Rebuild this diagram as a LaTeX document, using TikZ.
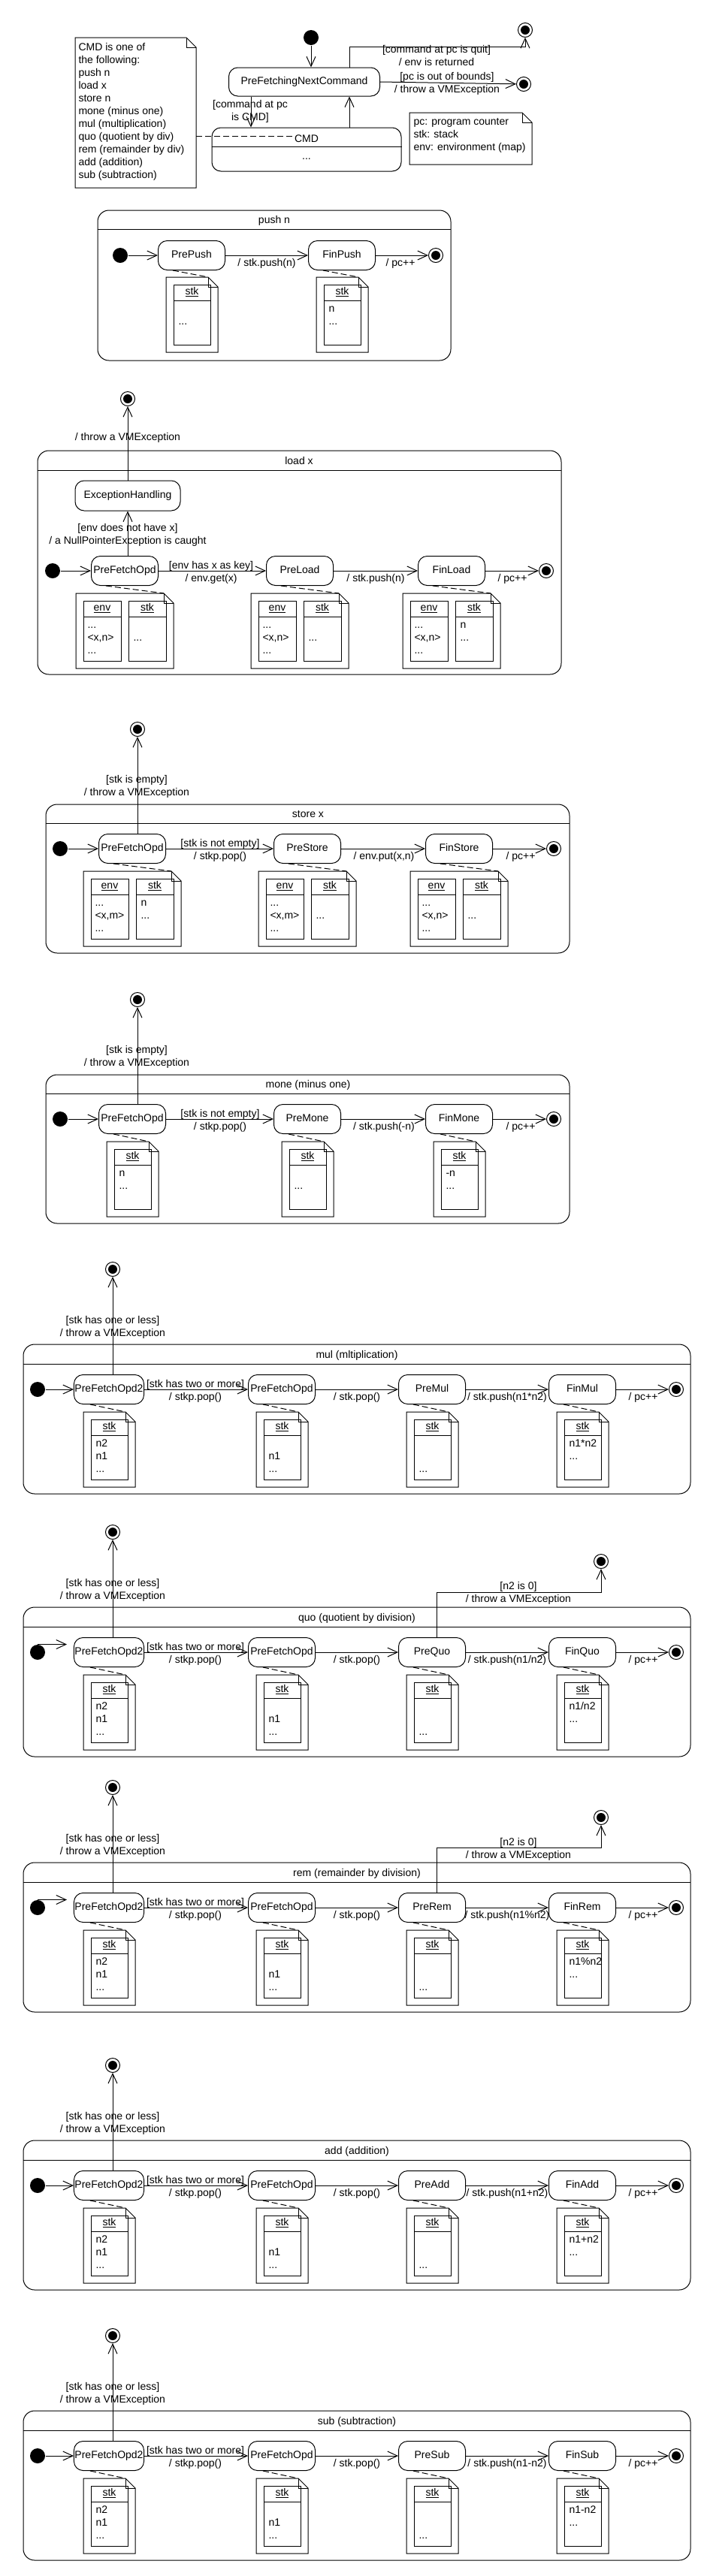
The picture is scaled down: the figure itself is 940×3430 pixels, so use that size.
\documentclass[tikz,border=0pt]{standalone}
\usepackage{fontspec}
\setmainfont{Liberation Sans}
\usepackage{tikz}
\usetikzlibrary{arrows.meta}

% note with one stack compartment: name, left, top, three lines
\newcommand{\stknote}[6]{%
  \draw (#2,#3) -- (#2+56,#3) -- (#2+69,#3+13) -- (#2+69,#3+100) -- (#2,#3+100) -- cycle;
  \draw (#2+56,#3) -- (#2+56,#3+13) -- (#2+69,#3+13);
  \coordinate (#1) at (#2+56,#3);
  \draw (#2+10,#3+10) rectangle (#2+59,#3+90);
  \draw (#2+10,#3+31) -- (#2+59,#3+31);
  \node[txt] (#1h) at (#2+34.5,#3+20) {\underline{stk}};
  \node[txt, anchor=west] (#1a) at (#2+16,#3+43) {#4};
  \node[txt, anchor=west] (#1b) at (#2+16,#3+60) {#5};
  \node[txt, anchor=west] (#1c) at (#2+16,#3+77) {#6};
}

% note with env and stack compartments: name, left, top, env lines, stk lines
\newcommand{\envnote}[8]{%
  \draw (#2,#3) -- (#2+117,#3) -- (#2+130,#3+13) -- (#2+130,#3+100) -- (#2,#3+100) -- cycle;
  \draw (#2+117,#3) -- (#2+117,#3+13) -- (#2+130,#3+13);
  \coordinate (#1) at (#2+117,#3);
  \draw (#2+10,#3+10) rectangle (#2+60,#3+90);
  \draw (#2+70,#3+10) rectangle (#2+120,#3+90);
  \draw (#2+10,#3+31) -- (#2+60,#3+31);
  \draw (#2+70,#3+31) -- (#2+120,#3+31);
  \node[txt] (#1e) at (#2+35,#3+20) {\underline{env}};
  \node[txt] (#1s) at (#2+95,#3+20) {\underline{stk}};
  \node[txt, anchor=west] (#1a) at (#2+15,#3+43) {#4};
  \node[txt, anchor=west] (#1b) at (#2+15,#3+60) {#5};
  \node[txt, anchor=west] (#1c) at (#2+15,#3+77) {#6};
  \node[txt, anchor=west] (#1d) at (#2+76,#3+43) {#7};
  \node[txt, anchor=west] (#1f) at (#2+76,#3+60) {#8};
}

% binary operation: top, prefix, state name, title, result
\newcommand{\opsection}[5]{%
  \draw[compbox] (31,#1) rectangle (919,#1+199);
  \draw (31,#1+26) -- (919,#1+26);
  \node[txt] (#2Title) at (475,#1+15) {#4};
  \node[enddot] (#2Exc) at (150,#1-100) {};
  \node[lbl] (#2ExcLbl) at (150,#1-23) {[stk has one or less]\\/ throw a VMException};
  \node[startdot] (#2Init) at (50,#1+60) {};
  \node[stnode] (#2OpdTwo) at (145,#1+60) {PreFetchOpd2};
  \node[stnode] (#2Opd) at (375,#1+60) {PreFetchOpd};
  \node[stnode] (pre#3) at (575,#1+60) {Pre#3};
  \node[stnode] (fin#3) at (775,#1+60) {Fin#3};
  \node[enddot] (#2End) at (900,#1+60) {};
  \draw[transarrow] (#2OpdTwo.north -| #2Exc) -- (#2Exc);
  \draw[transarrow] (#2OpdTwo) -- (#2Opd);
  \draw[transarrow] (#2Opd) -- (pre#3);
  \draw[transarrow] (pre#3) -- (fin#3);
  \draw[transarrow] (fin#3) -- (#2End);
  \node[lbl] (#2Guard) at (260,#1+62) {[stk has two or more]\\/ stkp.pop()};
  \node[txt] (#2Pop) at (475,#1+71) {/ stk.pop()};
  \node[txt] (#2Push) at (675,#1+71) {/ stk.push(#5)};
  \node[txt] (#2Inc) at (856,#1+71) {/ pc++};
  \stknote{#2OpdTwoN}{111}{#1+90}{n2}{n1}{...}
  \stknote{#2OpdN}{341}{#1+90}{}{n1}{...}
  \stknote{pre#3N}{541}{#1+90}{}{}{...}
  \stknote{fin#3N}{741}{#1+90}{#5}{...}{}
  \draw[anchorline] ([xshift=-25pt]#2OpdTwo.south) -- (#2OpdTwoN);
  \draw[anchorline] ([xshift=-25pt]#2Opd.south) -- (#2OpdN);
  \draw[anchorline] ([xshift=-25pt]pre#3.south) -- (pre#3N);
  \draw[anchorline] ([xshift=-25pt]fin#3.south) -- (fin#3N);
}

\begin{document}
\begin{tikzpicture}[x=1pt,y=-1pt,line width=1pt,
  every node/.style={font=\fontsize{14}{17}\selectfont},
  txt/.style={inner sep=0pt, text height=10pt, text depth=3pt},
  lbl/.style={inner sep=0pt, align=center},
  stnode/.style={draw, rounded corners=12pt, minimum width=89pt, minimum height=39pt, inner sep=1pt, text height=10pt, text depth=3pt},
  startdot/.style={circle, fill, inner sep=0pt, minimum size=20pt},
  enddot/.style={circle, draw, inner sep=0pt, minimum size=19pt, path picture={\fill (path picture bounding box.center) circle (6pt);}},
  transarrow/.style={-{Straight Barb[length=13pt,width=12pt]}},
  anchorline/.style={dash pattern=on 8pt off 4pt},
  compbox/.style={rounded corners=15pt}]

\fill[white] (0,0) rectangle (940,3430);
\useasboundingbox (0,0) rectangle (940,3430);

% top level
\draw (100,50) -- (248,50) -- (261,63) -- (261,250) -- (100,250) -- cycle;
\draw (248,50) -- (248,63) -- (261,63);
\node[align=left, anchor=north west, inner sep=0pt] (cmdList) at (104,57) {CMD is one of\\the following:\\push n\\load x\\store n\\mone (minus one)\\mul (multiplication)\\quo (quotient by div)\\rem (remainder by div)\\add (addition)\\sub (subtraction)};
\draw (545,150) -- (695,150) -- (708,163) -- (708,219) -- (545,219) -- cycle;
\draw (695,150) -- (695,163) -- (708,163);
\node[align=left, anchor=north west, inner sep=0pt] (pcList) at (550,157) {pc: program counter\\stk: stack\\env: environment (map)};

\node[startdot] (topInit) at (414,50) {};
\node[stnode, minimum width=201pt, minimum height=38pt] (fetchCmd) at (405,109) {PreFetchingNextCommand};
\node[enddot] (quitEnd) at (699,40) {};
\node[enddot] (oobEnd) at (697,112) {};
\node[draw, rounded corners=12pt, minimum width=252pt, minimum height=58pt] (cmdState) at (408,199) {};
\draw ([yshift=4pt]cmdState.west) -- ([yshift=4pt]cmdState.east);
\node[txt] (cmdName) at (408,186) {CMD};
\node[txt] (cmdDots) at (408,209) {...};
\coordinate (cmdNoteEdge) at (261,181);
\coordinate (cmdLink) at (390,181);

\draw[transarrow] (topInit) -- (topInit |- fetchCmd.north);
\draw[transarrow] ([xshift=60pt]fetchCmd.north) |- ([yshift=-12pt]quitEnd.south) -- (quitEnd.south);
\node[lbl] (quitLbl) at (581,74) {[command at pc is quit]\\/ env is returned};
\draw[transarrow] (fetchCmd.east) -- (oobEnd);
\node[lbl] (oobLbl) at (595,111) {[pc is out of bounds]\\/ throw a VMException};
\draw[transarrow] ([xshift=-71pt]fetchCmd.south) -- ([xshift=-74pt]cmdState.north);
\node[lbl] (cmdGuard) at (333,148) {[command at pc\\is CMD]};
\draw[transarrow] ([xshift=57pt]cmdState.north) -- ([xshift=60pt]fetchCmd.south);
\draw[anchorline] (cmdNoteEdge) -- (cmdLink);

% push n
\draw[compbox] (130,280) rectangle (600,480);
\draw (130,305) -- (600,305);
\node[txt] (pushTitle) at (365,294) {push n};
\node[startdot] (pushInit) at (160,340) {};
\node[stnode] (prePush) at (255,340) {PrePush};
\node[stnode] (finPush) at (455,340) {FinPush};
\node[enddot] (pushEnd) at (580,340) {};
\draw[transarrow] (pushInit) -- (prePush);
\draw[transarrow] (prePush) -- (finPush);
\draw[transarrow] (finPush) -- (pushEnd);
\node[txt] (pushAct) at (355,351) {/ stk.push(n)};
\node[txt] (pushInc) at (533,351) {/ pc++};
\stknote{prePushN}{221}{369}{}{...}{}
\stknote{finPushN}{421}{369}{n}{...}{}
\draw[anchorline] ([xshift=-25pt]prePush.south) -- (prePushN);
\draw[anchorline] ([xshift=-25pt]finPush.south) -- (finPushN);

% load x
\draw[compbox] (50,600) rectangle (747,898);
\draw (50,626) -- (747,626);
\node[txt] (loadTitle) at (398,615) {load x};
\node[enddot] (loadExc) at (170,531) {};
\node[stnode, minimum width=140pt, minimum height=40pt] (loadHandle) at (170,660) {ExceptionHandling};
\node[txt] (loadThrow) at (170,583) {/ throw a VMException};
\node[startdot] (loadInit) at (70,760) {};
\node[stnode] (loadOpd) at (166,760) {PreFetchOpd};
\node[stnode] (preLoad) at (399,760) {PreLoad};
\node[stnode] (finLoad) at (601,760) {FinLoad};
\node[enddot] (loadEnd) at (727,760) {};
\draw[transarrow] (loadHandle) -- (loadExc);
\draw[transarrow] (loadOpd.north -| loadHandle) -- (loadHandle);
\node[lbl] (loadCatch) at (170,712) {[env does not have x]\\/ a NullPointerException is caught};
\draw[transarrow] (loadInit) -- (loadOpd);
\draw[transarrow] (loadOpd) -- (preLoad);
\draw[transarrow] (preLoad) -- (finLoad);
\draw[transarrow] (finLoad) -- (loadEnd);
\node[lbl] (loadGuard) at (281,762) {[env has x as key]\\/ env.get(x)};
\node[txt] (loadPush) at (500,771) {/ stk.push(n)};
\node[txt] (loadInc) at (682,771) {/ pc++};
\envnote{loadOpdN}{101}{790}{...}{<x,n>}{...}{}{...}
\envnote{preLoadN}{334}{790}{...}{<x,n>}{...}{}{...}
\envnote{finLoadN}{536}{790}{...}{<x,n>}{...}{n}{...}
\draw[anchorline] ([xshift=-25pt]loadOpd.south) -- (loadOpdN);
\draw[anchorline] ([xshift=-25pt]preLoad.south) -- (preLoadN);
\draw[anchorline] ([xshift=-25pt]finLoad.south) -- (finLoadN);

% store x
\draw[compbox] (61,1071) rectangle (758,1269);
\draw (61,1096) -- (758,1096);
\node[txt] (storeTitle) at (410,1085) {store x};
\node[enddot] (storeExc) at (183,971) {};
\node[lbl] (storeExcLbl) at (182,1047) {[stk is empty]\\/ throw a VMException};
\node[startdot] (storeInit) at (80,1130) {};
\node[stnode] (storeOpd) at (176,1130) {PreFetchOpd};
\node[stnode] (preStore) at (409,1130) {PreStore};
\node[stnode] (finStore) at (611,1130) {FinStore};
\node[enddot] (storeEnd) at (737,1130) {};
\draw[transarrow] (storeOpd.north -| storeExc) -- (storeExc);
\draw[transarrow] (storeInit) -- (storeOpd);
\draw[transarrow] (storeOpd) -- (preStore);
\draw[transarrow] (preStore) -- (finStore);
\draw[transarrow] (finStore) -- (storeEnd);
\node[lbl] (storeGuard) at (293,1132) {[stk is not empty]\\/ stkp.pop()};
\node[txt] (storePut) at (511,1141) {/ env.put(x,n)};
\node[txt] (storeInc) at (693,1141) {/ pc++};
\envnote{storeOpdN}{111}{1160}{...}{<x,m>}{...}{n}{...}
\envnote{preStoreN}{344}{1160}{...}{<x,m>}{...}{}{...}
\envnote{finStoreN}{546}{1160}{...}{<x,n>}{...}{}{...}
\draw[anchorline] ([xshift=-25pt]storeOpd.south) -- (storeOpdN);
\draw[anchorline] ([xshift=-25pt]preStore.south) -- (preStoreN);
\draw[anchorline] ([xshift=-25pt]finStore.south) -- (finStoreN);

% mone
\draw[compbox] (61,1431) rectangle (758,1629);
\draw (61,1456) -- (758,1456);
\node[txt] (moneTitle) at (410,1445) {mone (minus one)};
\node[enddot] (moneExc) at (183,1331) {};
\node[lbl] (moneExcLbl) at (182,1407) {[stk is empty]\\/ throw a VMException};
\node[startdot] (moneInit) at (80,1490) {};
\node[stnode] (moneOpd) at (176,1490) {PreFetchOpd};
\node[stnode] (preMone) at (409,1490) {PreMone};
\node[stnode] (finMone) at (611,1490) {FinMone};
\node[enddot] (moneEnd) at (737,1490) {};
\draw[transarrow] (moneOpd.north -| moneExc) -- (moneExc);
\draw[transarrow] (moneInit) -- (moneOpd);
\draw[transarrow] (moneOpd) -- (preMone);
\draw[transarrow] (preMone) -- (finMone);
\draw[transarrow] (finMone) -- (moneEnd);
\node[lbl] (moneGuard) at (293,1492) {[stk is not empty]\\/ stkp.pop()};
\node[txt] (moneNeg) at (511,1501) {/ stk.push(-n)};
\node[txt] (moneInc) at (693,1501) {/ pc++};
\stknote{moneOpdN}{142}{1520}{n}{...}{}
\stknote{preMoneN}{375}{1520}{}{...}{}
\stknote{finMoneN}{577}{1520}{-n}{...}{}
\draw[anchorline] ([xshift=-25pt]moneOpd.south) -- (moneOpdN);
\draw[anchorline] ([xshift=-25pt]preMone.south) -- (preMoneN);
\draw[anchorline] ([xshift=-25pt]finMone.south) -- (finMoneN);

% mul
\opsection{1790}{mul}{Mul}{mul (mltiplication)}{n1*n2}
\draw[transarrow] (mulInit) -- (mulOpdTwo);

% quo
\opsection{2140}{quo}{Quo}{quo (quotient by division)}{n1/n2}
\draw[transarrow] (quoInit.north) -- ([xshift=-9pt]quoInit.north -| quoOpdTwo.west);
\node[enddot] (quoZero) at (800,2079) {};
\draw[transarrow] ([xshift=6pt]preQuo.north) |- ([yshift=-41pt]quoZero.center) -- (quoZero);
\node[lbl] (quoZeroLbl) at (690,2121) {[n2 is 0]\\/ throw a VMException};

% rem
\opsection{2480}{rem}{Rem}{rem (remainder by division)}{n1\%n2}
\draw[transarrow] (remInit.north) -- ([xshift=-9pt]remInit.north -| remOpdTwo.west);
\node[enddot] (remZero) at (800,2420) {};
\draw[transarrow] ([xshift=6pt]preRem.north) |- ([yshift=-40pt]remZero.center) -- (remZero);
\node[lbl] (remZeroLbl) at (690,2462) {[n2 is 0]\\/ throw a VMException};

% add
\opsection{2850}{add}{Add}{add (addition)}{n1+n2}
\draw[transarrow] (addInit) -- (addOpdTwo);

% sub
\opsection{3210}{sub}{Sub}{sub (subtraction)}{n1-n2}
\draw[transarrow] (subInit) -- (subOpdTwo);

\end{tikzpicture}
\end{document}
